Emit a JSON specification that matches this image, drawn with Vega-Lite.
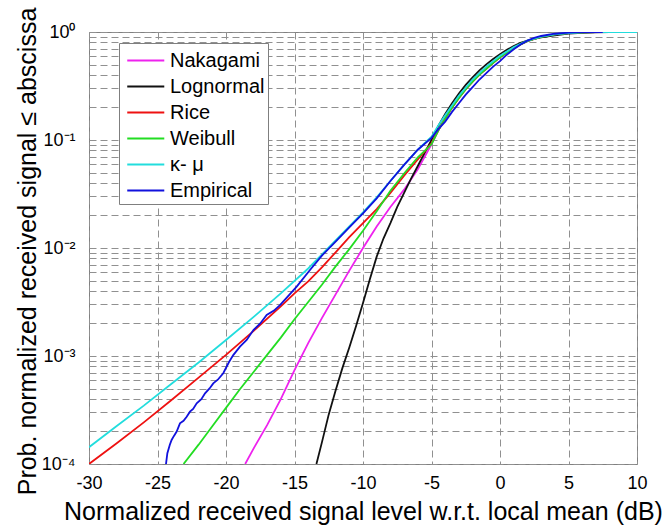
{
  "$schema": "https://vega.github.io/schema/vega-lite/v6.json",
  "autosize": {"type": "none"},
  "width": 548,
  "height": 432,
  "padding": {"left": 89, "top": 32, "right": 27, "bottom": 63},
  "background": "white",
  "config": {
    "font": "Liberation Sans",
    "view": {"stroke": "#808080", "strokeWidth": 1},
    "axis": {
      "grid": true,
      "gridDash": [7, 4],
      "gridColor": "#909090",
      "gridWidth": 1,
      "domain": false,
      "ticks": false,
      "labelFont": "Liberation Sans",
      "labelFontSize": 18,
      "labelColor": "black",
      "titleFont": "Liberation Sans",
      "titleFontSize": 25,
      "titleFontWeight": "normal",
      "titleColor": "black",
      "labelOverlap": false,
      "labelFlush": false,
      "labelBound": false
    },
    "legend": {
      "orient": "none",
      "legendX": 30,
      "legendY": 11,
      "fillColor": "white",
      "strokeColor": "#7f7f7f",
      "padding": 3,
      "symbolType": "M-0.7,0H2.1",
      "symbolSize": 700,
      "symbolStrokeWidth": 1.8,
      "labelFont": "Liberation Sans",
      "labelFontSize": 20,
      "labelColor": "black",
      "labelOffset": 19,
      "rowPadding": 1,
      "labelLimit": 300
    }
  },
  "data": {
    "values": [
      {"s": "Nakagami", "x": -18.6, "p": 0.0001},
      {"s": "Nakagami", "x": -18, "p": 0.000138},
      {"s": "Nakagami", "x": -17, "p": 0.000229},
      {"s": "Nakagami", "x": -16, "p": 0.000398},
      {"s": "Nakagami", "x": -15, "p": 0.000741},
      {"s": "Nakagami", "x": -14, "p": 0.001318},
      {"s": "Nakagami", "x": -13, "p": 0.00224},
      {"s": "Nakagami", "x": -12, "p": 0.00372},
      {"s": "Nakagami", "x": -11, "p": 0.00617},
      {"s": "Nakagami", "x": -10, "p": 0.01},
      {"s": "Nakagami", "x": -9, "p": 0.01585},
      {"s": "Nakagami", "x": -8, "p": 0.024},
      {"s": "Nakagami", "x": -7, "p": 0.0347},
      {"s": "Nakagami", "x": -6, "p": 0.0537},
      {"s": "Nakagami", "x": -5, "p": 0.0912},
      {"s": "Nakagami", "x": -4.5, "p": 0.123},
      {"s": "Nakagami", "x": -4, "p": 0.1585},
      {"s": "Nakagami", "x": -3.5, "p": 0.1995},
      {"s": "Nakagami", "x": -3, "p": 0.2455},
      {"s": "Nakagami", "x": -2.5, "p": 0.2951},
      {"s": "Nakagami", "x": -2, "p": 0.3467},
      {"s": "Nakagami", "x": -1.5, "p": 0.4027},
      {"s": "Nakagami", "x": -1, "p": 0.4571},
      {"s": "Nakagami", "x": -0.5, "p": 0.5188},
      {"s": "Nakagami", "x": 0, "p": 0.5821},
      {"s": "Nakagami", "x": 0.5, "p": 0.6457},
      {"s": "Nakagami", "x": 1, "p": 0.7079},
      {"s": "Nakagami", "x": 1.5, "p": 0.7674},
      {"s": "Nakagami", "x": 2, "p": 0.8222},
      {"s": "Nakagami", "x": 2.5, "p": 0.865},
      {"s": "Nakagami", "x": 3, "p": 0.9016},
      {"s": "Nakagami", "x": 4, "p": 0.9506},
      {"s": "Nakagami", "x": 5, "p": 0.9772},
      {"s": "Nakagami", "x": 6, "p": 0.9908},
      {"s": "Nakagami", "x": 7, "p": 0.9966},
      {"s": "Nakagami", "x": 8, "p": 0.9989},
      {"s": "Nakagami", "x": 9, "p": 1},
      {"s": "Nakagami", "x": 10, "p": 1},

      {"s": "Lognormal", "x": -13.4, "p": 0.0001},
      {"s": "Lognormal", "x": -13, "p": 0.0001585},
      {"s": "Lognormal", "x": -12.5, "p": 0.000288},
      {"s": "Lognormal", "x": -12, "p": 0.000479},
      {"s": "Lognormal", "x": -11.5, "p": 0.000776},
      {"s": "Lognormal", "x": -11, "p": 0.0012},
      {"s": "Lognormal", "x": -10.5, "p": 0.00191},
      {"s": "Lognormal", "x": -10, "p": 0.00309},
      {"s": "Lognormal", "x": -9.5, "p": 0.00513},
      {"s": "Lognormal", "x": -9, "p": 0.00832},
      {"s": "Lognormal", "x": -8.5, "p": 0.0123},
      {"s": "Lognormal", "x": -8, "p": 0.017},
      {"s": "Lognormal", "x": -7.5, "p": 0.024},
      {"s": "Lognormal", "x": -7, "p": 0.0324},
      {"s": "Lognormal", "x": -6.5, "p": 0.0437},
      {"s": "Lognormal", "x": -6, "p": 0.0575},
      {"s": "Lognormal", "x": -5.5, "p": 0.0759},
      {"s": "Lognormal", "x": -5, "p": 0.1},
      {"s": "Lognormal", "x": -4.5, "p": 0.1349},
      {"s": "Lognormal", "x": -4, "p": 0.1738},
      {"s": "Lognormal", "x": -3.5, "p": 0.2188},
      {"s": "Lognormal", "x": -3, "p": 0.2692},
      {"s": "Lognormal", "x": -2.5, "p": 0.3236},
      {"s": "Lognormal", "x": -2, "p": 0.3802},
      {"s": "Lognormal", "x": -1.5, "p": 0.4416},
      {"s": "Lognormal", "x": -1, "p": 0.5012},
      {"s": "Lognormal", "x": -0.5, "p": 0.5623},
      {"s": "Lognormal", "x": 0, "p": 0.6237},
      {"s": "Lognormal", "x": 0.5, "p": 0.6839},
      {"s": "Lognormal", "x": 1, "p": 0.7413},
      {"s": "Lognormal", "x": 1.5, "p": 0.7943},
      {"s": "Lognormal", "x": 2, "p": 0.8318},
      {"s": "Lognormal", "x": 2.5, "p": 0.865},
      {"s": "Lognormal", "x": 3, "p": 0.8913},
      {"s": "Lognormal", "x": 4, "p": 0.9333},
      {"s": "Lognormal", "x": 5, "p": 0.9661},
      {"s": "Lognormal", "x": 6, "p": 0.984},
      {"s": "Lognormal", "x": 7, "p": 0.9931},
      {"s": "Lognormal", "x": 8, "p": 0.9977},
      {"s": "Lognormal", "x": 9, "p": 1},
      {"s": "Lognormal", "x": 10, "p": 1},

      {"s": "Rice", "x": -30, "p": 0.0001},
      {"s": "Rice", "x": -28, "p": 0.000155},
      {"s": "Rice", "x": -26, "p": 0.000243},
      {"s": "Rice", "x": -24, "p": 0.000389},
      {"s": "Rice", "x": -22, "p": 0.000631},
      {"s": "Rice", "x": -20, "p": 0.001023},
      {"s": "Rice", "x": -18, "p": 0.0017},
      {"s": "Rice", "x": -16, "p": 0.00288},
      {"s": "Rice", "x": -15, "p": 0.0038},
      {"s": "Rice", "x": -14, "p": 0.0049},
      {"s": "Rice", "x": -13, "p": 0.00661},
      {"s": "Rice", "x": -12, "p": 0.00912},
      {"s": "Rice", "x": -11, "p": 0.01259},
      {"s": "Rice", "x": -10, "p": 0.01698},
      {"s": "Rice", "x": -9, "p": 0.02291},
      {"s": "Rice", "x": -8, "p": 0.03236},
      {"s": "Rice", "x": -7, "p": 0.04677},
      {"s": "Rice", "x": -6, "p": 0.06607},
      {"s": "Rice", "x": -5, "p": 0.0933},
      {"s": "Rice", "x": -4.5, "p": 0.123},
      {"s": "Rice", "x": -4, "p": 0.1585},
      {"s": "Rice", "x": -3.5, "p": 0.1995},
      {"s": "Rice", "x": -3, "p": 0.2455},
      {"s": "Rice", "x": -2.5, "p": 0.2951},
      {"s": "Rice", "x": -2, "p": 0.3467},
      {"s": "Rice", "x": -1.5, "p": 0.4027},
      {"s": "Rice", "x": -1, "p": 0.4571},
      {"s": "Rice", "x": -0.5, "p": 0.5188},
      {"s": "Rice", "x": 0, "p": 0.5821},
      {"s": "Rice", "x": 0.5, "p": 0.6457},
      {"s": "Rice", "x": 1, "p": 0.7079},
      {"s": "Rice", "x": 1.5, "p": 0.7674},
      {"s": "Rice", "x": 2, "p": 0.8222},
      {"s": "Rice", "x": 2.5, "p": 0.865},
      {"s": "Rice", "x": 3, "p": 0.9016},
      {"s": "Rice", "x": 4, "p": 0.9506},
      {"s": "Rice", "x": 5, "p": 0.9772},
      {"s": "Rice", "x": 6, "p": 0.9908},
      {"s": "Rice", "x": 7, "p": 0.9966},
      {"s": "Rice", "x": 8, "p": 0.9989},
      {"s": "Rice", "x": 9, "p": 1},
      {"s": "Rice", "x": 10, "p": 1},

      {"s": "Weibull", "x": -23.1, "p": 0.0001},
      {"s": "Weibull", "x": -22, "p": 0.000151},
      {"s": "Weibull", "x": -21, "p": 0.000224},
      {"s": "Weibull", "x": -20, "p": 0.000331},
      {"s": "Weibull", "x": -19, "p": 0.00049},
      {"s": "Weibull", "x": -18, "p": 0.000708},
      {"s": "Weibull", "x": -17, "p": 0.001023},
      {"s": "Weibull", "x": -16, "p": 0.00148},
      {"s": "Weibull", "x": -15, "p": 0.00219},
      {"s": "Weibull", "x": -14, "p": 0.00316},
      {"s": "Weibull", "x": -13, "p": 0.00457},
      {"s": "Weibull", "x": -12, "p": 0.00676},
      {"s": "Weibull", "x": -11, "p": 0.00977},
      {"s": "Weibull", "x": -10, "p": 0.01445},
      {"s": "Weibull", "x": -9, "p": 0.02188},
      {"s": "Weibull", "x": -8, "p": 0.03388},
      {"s": "Weibull", "x": -7, "p": 0.049},
      {"s": "Weibull", "x": -6, "p": 0.06918},
      {"s": "Weibull", "x": -5, "p": 0.0912},
      {"s": "Weibull", "x": -4.5, "p": 0.123},
      {"s": "Weibull", "x": -4, "p": 0.1585},
      {"s": "Weibull", "x": -3.5, "p": 0.1995},
      {"s": "Weibull", "x": -3, "p": 0.2455},
      {"s": "Weibull", "x": -2.5, "p": 0.2951},
      {"s": "Weibull", "x": -2, "p": 0.3467},
      {"s": "Weibull", "x": -1.5, "p": 0.4027},
      {"s": "Weibull", "x": -1, "p": 0.4571},
      {"s": "Weibull", "x": -0.5, "p": 0.5188},
      {"s": "Weibull", "x": 0, "p": 0.5821},
      {"s": "Weibull", "x": 0.5, "p": 0.6457},
      {"s": "Weibull", "x": 1, "p": 0.7079},
      {"s": "Weibull", "x": 1.5, "p": 0.7674},
      {"s": "Weibull", "x": 2, "p": 0.8222},
      {"s": "Weibull", "x": 2.5, "p": 0.865},
      {"s": "Weibull", "x": 3, "p": 0.9016},
      {"s": "Weibull", "x": 4, "p": 0.9506},
      {"s": "Weibull", "x": 5, "p": 0.9772},
      {"s": "Weibull", "x": 6, "p": 0.9908},
      {"s": "Weibull", "x": 7, "p": 0.9966},
      {"s": "Weibull", "x": 8, "p": 0.9989},
      {"s": "Weibull", "x": 9, "p": 1},
      {"s": "Weibull", "x": 10, "p": 1},

      {"s": "κ-  μ", "x": -30, "p": 0.000143},
      {"s": "κ-  μ", "x": -28, "p": 0.000224},
      {"s": "κ-  μ", "x": -26, "p": 0.000347},
      {"s": "κ-  μ", "x": -24, "p": 0.00055},
      {"s": "κ-  μ", "x": -22, "p": 0.000871},
      {"s": "κ-  μ", "x": -20, "p": 0.001406},
      {"s": "κ-  μ", "x": -18, "p": 0.00229},
      {"s": "κ-  μ", "x": -16, "p": 0.0038},
      {"s": "κ-  μ", "x": -14, "p": 0.00646},
      {"s": "κ-  μ", "x": -12, "p": 0.01175},
      {"s": "κ-  μ", "x": -11, "p": 0.01585},
      {"s": "κ-  μ", "x": -10, "p": 0.02138},
      {"s": "κ-  μ", "x": -9, "p": 0.02951},
      {"s": "κ-  μ", "x": -8, "p": 0.04169},
      {"s": "κ-  μ", "x": -7, "p": 0.05888},
      {"s": "κ-  μ", "x": -6, "p": 0.08128},
      {"s": "κ-  μ", "x": -5, "p": 0.1072},
      {"s": "κ-  μ", "x": -4.5, "p": 0.1365},
      {"s": "κ-  μ", "x": -4, "p": 0.1698},
      {"s": "κ-  μ", "x": -3, "p": 0.257},
      {"s": "κ-  μ", "x": -2, "p": 0.3631},
      {"s": "κ-  μ", "x": -1, "p": 0.4786},
      {"s": "κ-  μ", "x": 0, "p": 0.6026},
      {"s": "κ-  μ", "x": 1, "p": 0.7244},
      {"s": "κ-  μ", "x": 2, "p": 0.8318},
      {"s": "κ-  μ", "x": 3, "p": 0.9057},
      {"s": "κ-  μ", "x": 4, "p": 0.9528},
      {"s": "κ-  μ", "x": 5, "p": 0.9772},
      {"s": "κ-  μ", "x": 6, "p": 0.9908},
      {"s": "κ-  μ", "x": 7, "p": 0.9966},
      {"s": "κ-  μ", "x": 8, "p": 0.9989},
      {"s": "κ-  μ", "x": 9, "p": 1},
      {"s": "κ-  μ", "x": 10, "p": 1},

      {"s": "Empirical", "x": -24.38, "p": 0.0001},
      {"s": "Empirical", "x": -24.28, "p": 0.000126},
      {"s": "Empirical", "x": -24.1, "p": 0.000151},
      {"s": "Empirical", "x": -23.97, "p": 0.000167},
      {"s": "Empirical", "x": -23.8, "p": 0.000182},
      {"s": "Empirical", "x": -23.6, "p": 0.0002},
      {"s": "Empirical", "x": -23.36, "p": 0.000238},
      {"s": "Empirical", "x": -23.1, "p": 0.000251},
      {"s": "Empirical", "x": -22.87, "p": 0.000274},
      {"s": "Empirical", "x": -22.63, "p": 0.000305},
      {"s": "Empirical", "x": -22.4, "p": 0.000324},
      {"s": "Empirical", "x": -22.14, "p": 0.000365},
      {"s": "Empirical", "x": -21.8, "p": 0.000398},
      {"s": "Empirical", "x": -21.53, "p": 0.000451},
      {"s": "Empirical", "x": -21.2, "p": 0.000501},
      {"s": "Empirical", "x": -20.93, "p": 0.000558},
      {"s": "Empirical", "x": -20.6, "p": 0.000603},
      {"s": "Empirical", "x": -20.2, "p": 0.000692},
      {"s": "Empirical", "x": -19.8, "p": 0.000871},
      {"s": "Empirical", "x": -19.47, "p": 0.00102},
      {"s": "Empirical", "x": -18.98, "p": 0.00122},
      {"s": "Empirical", "x": -18.49, "p": 0.00141},
      {"s": "Empirical", "x": -18, "p": 0.00174},
      {"s": "Empirical", "x": -17.5, "p": 0.002},
      {"s": "Empirical", "x": -17.03, "p": 0.0024},
      {"s": "Empirical", "x": -16.5, "p": 0.00263},
      {"s": "Empirical", "x": -16.06, "p": 0.00296},
      {"s": "Empirical", "x": -15.5, "p": 0.00355},
      {"s": "Empirical", "x": -14.84, "p": 0.00439},
      {"s": "Empirical", "x": -13.87, "p": 0.00625},
      {"s": "Empirical", "x": -13, "p": 0.00851},
      {"s": "Empirical", "x": -12, "p": 0.01148},
      {"s": "Empirical", "x": -11, "p": 0.01549},
      {"s": "Empirical", "x": -10, "p": 0.02089},
      {"s": "Empirical", "x": -9, "p": 0.02884},
      {"s": "Empirical", "x": -8, "p": 0.04169},
      {"s": "Empirical", "x": -7, "p": 0.05888},
      {"s": "Empirical", "x": -6, "p": 0.08128},
      {"s": "Empirical", "x": -5, "p": 0.1047},
      {"s": "Empirical", "x": -4.5, "p": 0.1259},
      {"s": "Empirical", "x": -4, "p": 0.1479},
      {"s": "Empirical", "x": -3.5, "p": 0.182},
      {"s": "Empirical", "x": -3, "p": 0.2188},
      {"s": "Empirical", "x": -2.5, "p": 0.263},
      {"s": "Empirical", "x": -2, "p": 0.309},
      {"s": "Empirical", "x": -1.5, "p": 0.3631},
      {"s": "Empirical", "x": -1, "p": 0.4169},
      {"s": "Empirical", "x": -0.5, "p": 0.4786},
      {"s": "Empirical", "x": 0, "p": 0.537},
      {"s": "Empirical", "x": 0.5, "p": 0.6166},
      {"s": "Empirical", "x": 1, "p": 0.6918},
      {"s": "Empirical", "x": 1.5, "p": 0.7674},
      {"s": "Empirical", "x": 2, "p": 0.8318},
      {"s": "Empirical", "x": 2.5, "p": 0.881},
      {"s": "Empirical", "x": 3, "p": 0.9183},
      {"s": "Empirical", "x": 4, "p": 0.9638},
      {"s": "Empirical", "x": 5, "p": 0.9863},
      {"s": "Empirical", "x": 6, "p": 0.9954},
      {"s": "Empirical", "x": 7, "p": 0.9989},
      {"s": "Empirical", "x": 7.5, "p": 1}
    ]
  },
  "mark": {"type": "line", "strokeWidth": 1.8, "clip": true},
  "encoding": {
    "x": {
      "field": "x",
      "type": "quantitative",
      "scale": {"domain": [-30, 10], "nice": false, "zero": false},
      "axis": {
        "values": [-30, -25, -20, -15, -10, -5, 0, 5, 10],
        "labelExpr": "'' + datum.value",
        "labelPadding": 10,
        "title": "Normalized received signal level w.r.t. local mean (dB)",
        "titleBaseline": "alphabetic",
        "titleY": 55
      }
    },
    "y": {
      "field": "p",
      "type": "quantitative",
      "scale": {"type": "log", "domain": [0.0001, 1], "nice": false},
      "axis": {
        "values": [0.0001, 0.0002, 0.0003, 0.0004, 0.0005, 0.0006, 0.0007, 0.0008, 0.0009,
                   0.001, 0.002, 0.003, 0.004, 0.005, 0.006, 0.007, 0.008, 0.009,
                   0.01, 0.02, 0.03, 0.04, 0.05, 0.06, 0.07, 0.08, 0.09,
                   0.1, 0.2, 0.3, 0.4, 0.5, 0.6, 0.7, 0.8, 0.9, 1],
        "labelExpr": "datum.value == 1 ? '10⁰' : datum.value == 0.1 ? '10⁻¹' : datum.value == 0.01 ? '10⁻²' : datum.value == 0.001 ? '10⁻³' : datum.value == 0.0001 ? '10⁻⁴' : ''",
        "labelPadding": 14,
        "title": "Prob. normalized received signal ≤ abscissa",
        "titleBaseline": "alphabetic",
        "titleX": -54,
        "titleY": 219
      }
    },
    "color": {
      "field": "s",
      "type": "nominal",
      "scale": {
        "domain": ["Nakagami", "Lognormal", "Rice", "Weibull", "κ-  μ", "Empirical"],
        "range": ["#ee22ee", "#111111", "#ee1111", "#22dd22", "#22dddd", "#1111dd"]
      },
      "legend": {"title": null}
    }
  }
}
